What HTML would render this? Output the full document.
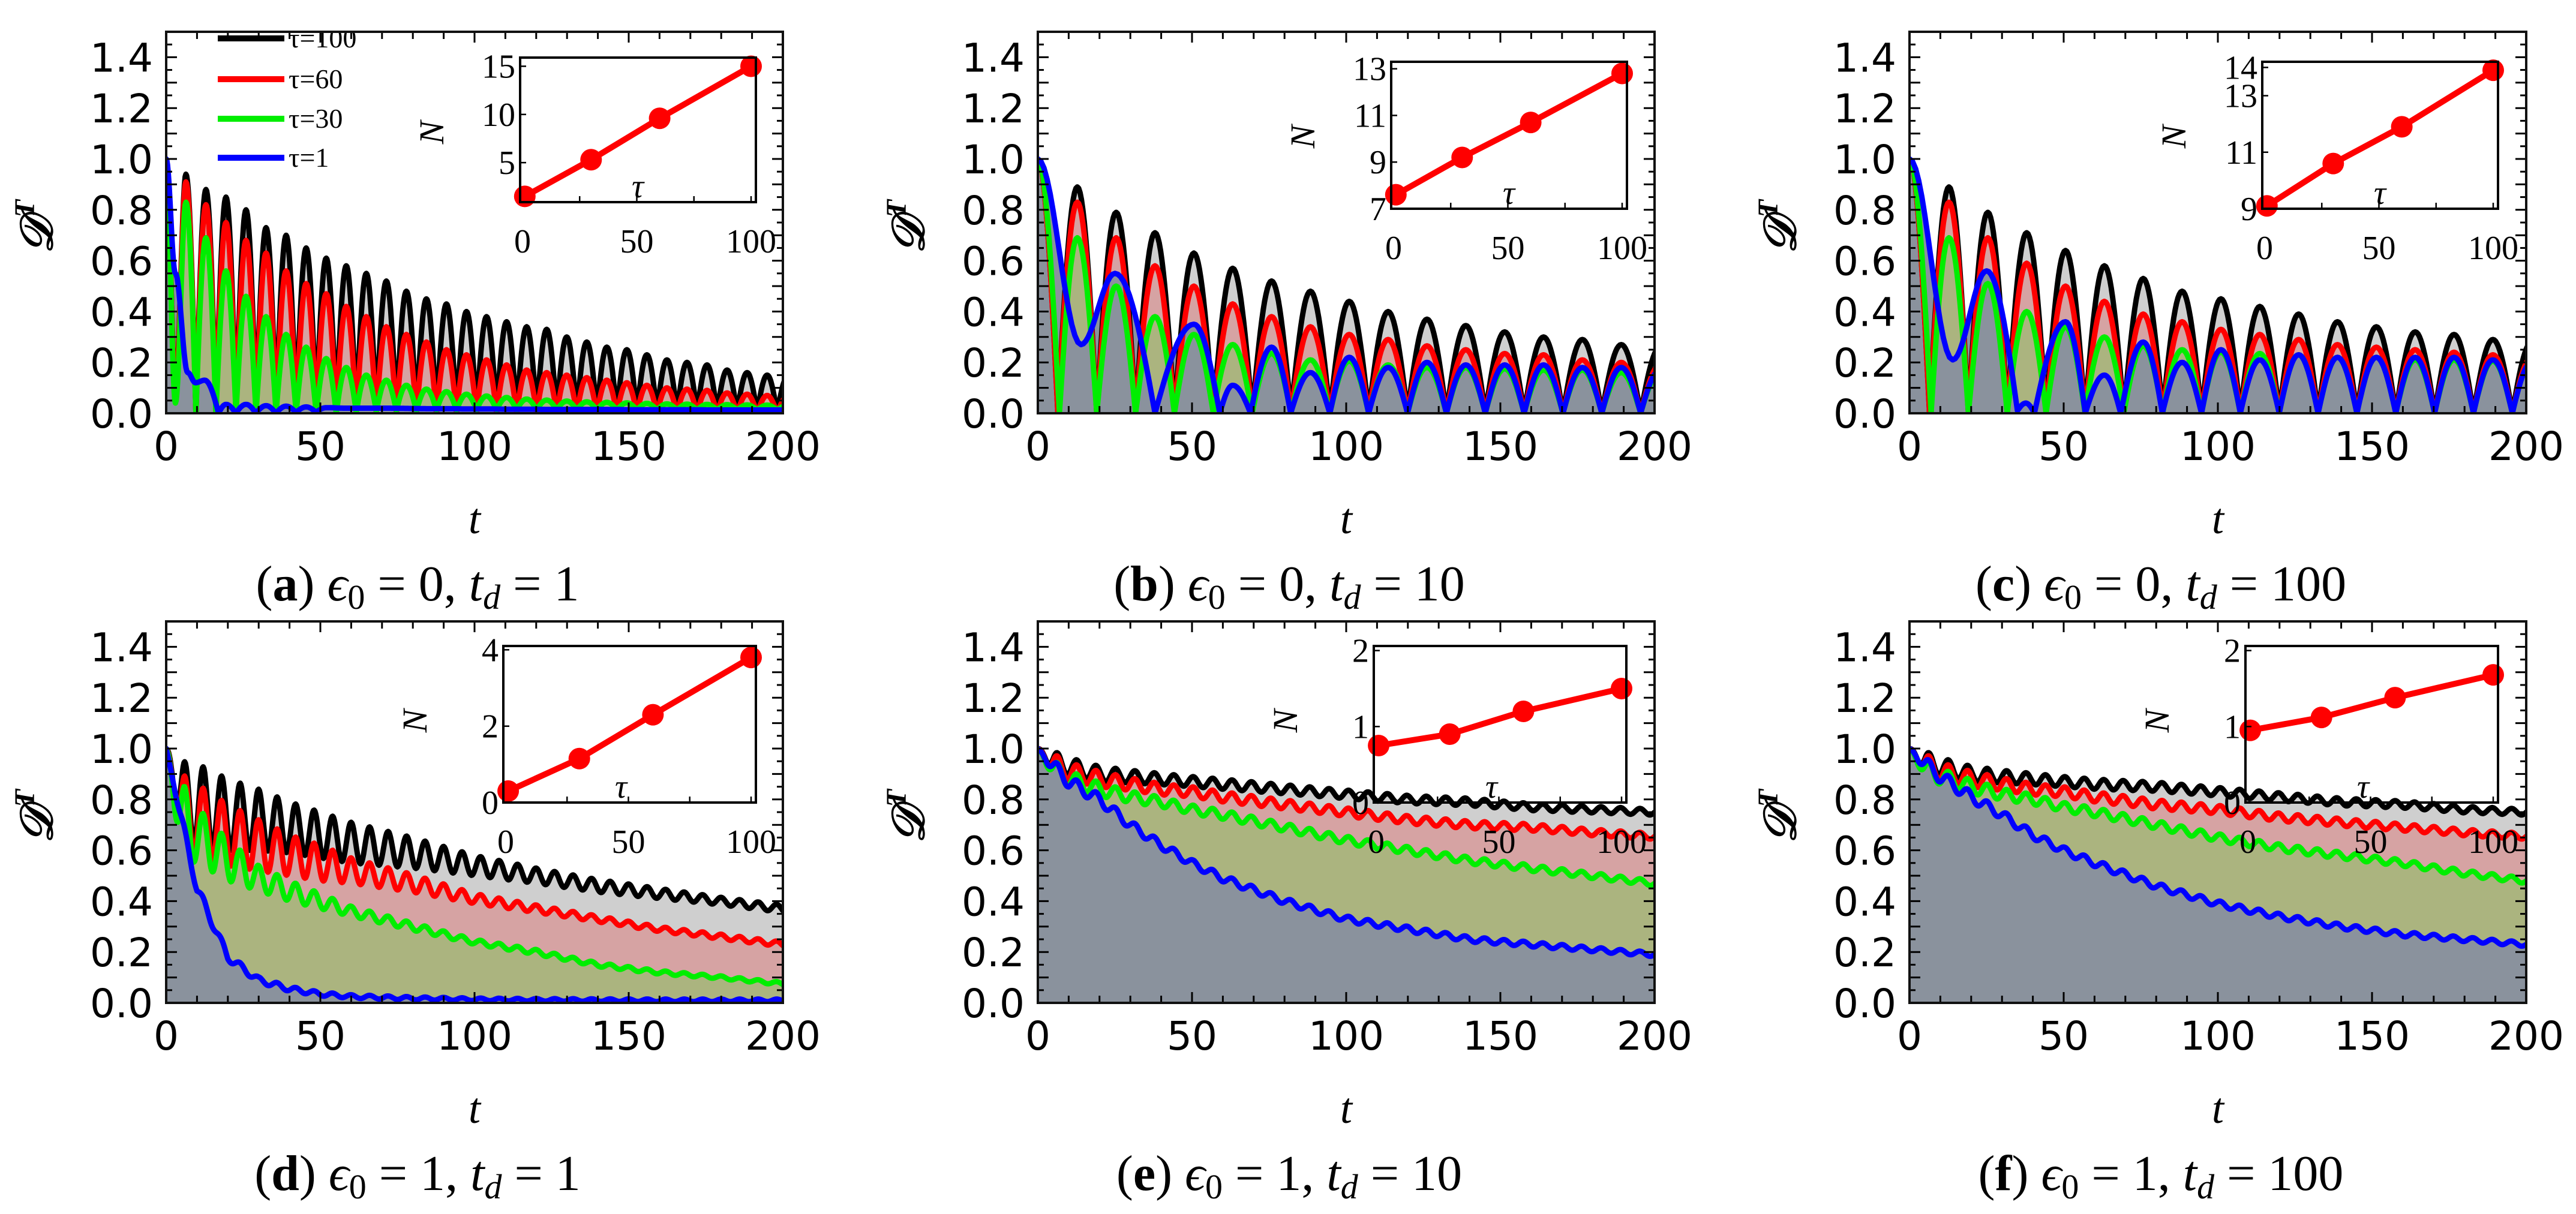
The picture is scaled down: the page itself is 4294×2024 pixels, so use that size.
<!DOCTYPE html>
<html><head><meta charset="utf-8">
<style>
html,body{margin:0;padding:0;background:#fff;}
svg{display:block;}
.tk{font-family:"DejaVu Sans","Liberation Sans",sans-serif;font-size:66px;fill:#000;}
.sf{font-family:"Liberation Serif","DejaVu Serif",serif;fill:#000;}
</style></head>
<body>
<svg id="fig" width="4294" height="2024" viewBox="0 0 4294 2024" xmlns="http://www.w3.org/2000/svg"></svg>
<script>
// ---------- DATA ----------
const panelIds = ['a','b','c','d','e','f'];
const captionEps = ['0','0','0','1','1','1'];
const captionTd = ['1','10','100','1','10','100'];
const yTicks = [0.0,0.2,0.4,0.6,0.8,1.0,1.2,1.4];
const xTicks = [0,50,100,150,200];
const legendLabels = ['τ=100','τ=60','τ=30','τ=1'];

const peakT_a = [6.4,12.9,19.4,25.9,32.4,38.9,45.4,51.9,58.4,64.9,71.4,77.9,84.4,90.9,97.4,103.9,110.4,116.9,123.4,129.9,136.4,142.9,149.4,155.9,162.4,168.9,175.4,181.9,188.4,194.9,201.4];
const a_black = [0.94,0.88,0.85,0.80,0.73,0.70,0.65,0.61,0.58,0.55,0.52,0.48,0.45,0.43,0.40,0.38,0.36,0.34,0.33,0.30,0.28,0.26,0.25,0.23,0.21,0.20,0.19,0.17,0.16,0.15,0.14];
const a_red = [0.91,0.82,0.75,0.68,0.63,0.56,0.51,0.47,0.42,0.38,0.34,0.31,0.28,0.25,0.23,0.21,0.19,0.17,0.16,0.15,0.14,0.13,0.12,0.11,0.10,0.095,0.09,0.08,0.075,0.07,0.065];
const a_green = [0.83,0.69,0.56,0.46,0.38,0.31,0.26,0.215,0.18,0.15,0.13,0.11,0.095,0.085,0.075,0.068,0.062,0.056,0.052,0.048,0.045,0.043,0.041,0.039,0.037,0.036,0.035,0.034,0.033,0.032,0.031];
const a_green_tr = [0,0,0,0,0,0,0,0,0.005,0.008,0.01,0.01,0.012,0.012,0.013,0.013,0.013,0.013,0.013,0.013,0.013,0.013,0.013,0.013,0.013,0.013,0.013,0.013,0.013,0.013];
const a_blueT = [0,3,7,9.5,12.5,17,19.4,22.6,25.9,29.1,32.4,35.6,38.9,42.1,45.4,48.6,51.9,58.4,64.9,71.4,77.9,84.4,90.9,97.4,103.9,110.4,116.9,123.4,129.9,136.4,142.9,149.4,155.9,162.4,168.9,175.4,181.9,188.4,194.9,201.4];
const a_blueV = [1.0,0.55,0.16,0.12,0.13,0.0,0.035,0.0,0.035,0.0,0.03,0.0,0.028,0.003,0.025,0.004,0.022,0.02,0.02,0.02,0.019,0.018,0.018,0.017,0.017,0.016,0.016,0.015,0.015,0.015,0.015,0.014,0.014,0.014,0.014,0.013,0.013,0.013,0.013,0.013];

const peakT_bc = [12.8,25.4,38.0,50.6,63.2,75.8,88.4,101.0,113.6,126.2,138.8,151.4,164.0,176.6,189.2,201.8];
const b_black = [0.89,0.79,0.71,0.63,0.57,0.52,0.48,0.44,0.40,0.37,0.345,0.32,0.30,0.29,0.27,0.26];
const b_red = [0.83,0.69,0.58,0.50,0.43,0.38,0.34,0.31,0.29,0.265,0.25,0.235,0.23,0.21,0.20,0.19];
const b_green = [0.69,0.50,0.38,0.31,0.27,0.235,0.21,0.205,0.19,0.18,0.18,0.175,0.17,0.17,0.16,0.16];
const b_blueT = [0,14,25,38,50.6,59,63.2,69,75.8,82,88.4,94.7,101,107.3,113.6,119.9,126.2,132.5,138.8,145.1,151.4,157.7,164,170.3,176.6,182.9,189.2,195.5,201.8];
const b_blueV = [1.0,0.27,0.55,0.0,0.35,0.0,0.11,0.0,0.26,0.0,0.16,0.0,0.22,0.0,0.18,0.0,0.20,0.0,0.19,0.0,0.19,0.0,0.19,0.0,0.18,0.0,0.18,0.0,0.17];
const c_black = [0.89,0.79,0.71,0.64,0.58,0.53,0.48,0.45,0.42,0.39,0.36,0.34,0.32,0.31,0.29,0.28];
const c_red = [0.83,0.69,0.59,0.50,0.44,0.39,0.36,0.33,0.31,0.29,0.27,0.26,0.25,0.24,0.23,0.22];
const c_green = [0.69,0.51,0.40,0.34,0.30,0.265,0.25,0.24,0.235,0.23,0.22,0.22,0.21,0.21,0.205,0.20];
const c_blueT = [0,14,25,35,37.7,40.5,50.6,57,63.2,68.5,75.8,82,88.4,94.7,101,107.3,113.6,119.9,126.2,132.5,138.8,145.1,151.4,157.7,164,170.3,176.6,182.9,189.2,195.5,201.8];
const c_blueV = [1.0,0.21,0.56,0.01,0.04,0.0,0.36,0.0,0.15,0.0,0.28,0.0,0.20,0.0,0.25,0.0,0.21,0.0,0.23,0.0,0.22,0.0,0.22,0.0,0.22,0.0,0.22,0.0,0.21,0.0,0.20];

const gridT = [0,5,10,20,30,40,50,60,80,100,120,140,160,180,200];
const d_black = [1.0,0.80,0.78,0.74,0.72,0.69,0.66,0.63,0.59,0.54,0.50,0.46,0.43,0.40,0.37];
const d_blackAmp = [0,0.15,0.16,0.14,0.12,0.10,0.09,0.08,0.06,0.04,0.03,0.025,0.02,0.015,0.015];
const d_red = [1.0,0.75,0.72,0.66,0.62,0.58,0.55,0.52,0.47,0.41,0.37,0.33,0.29,0.26,0.23];
const d_redAmp = [0,0.15,0.14,0.12,0.10,0.08,0.07,0.05,0.035,0.02,0.015,0.012,0.01,0.01,0.01];
const d_green = [1.0,0.72,0.66,0.56,0.49,0.44,0.40,0.36,0.30,0.24,0.20,0.15,0.12,0.10,0.075];
const d_greenAmp = [0,0.15,0.11,0.08,0.05,0.04,0.03,0.02,0.015,0.01,0.01,0.008,0.007,0.006,0.006];
const d_blue = [1.0,0.72,0.45,0.18,0.09,0.055,0.035,0.025,0.018,0.014,0.012,0.011,0.01,0.01,0.01];
const d_blueAmp = [0,0.02,0.02,0.015,0.012,0.01,0.008,0.007,0.006,0.005,0.005,0.005,0.005,0.005,0.005];
const e_black = [1.0,0.95,0.93,0.90,0.89,0.88,0.87,0.86,0.84,0.82,0.80,0.79,0.77,0.76,0.75];
const e_red = [1.0,0.94,0.91,0.88,0.86,0.84,0.83,0.81,0.78,0.75,0.72,0.70,0.69,0.67,0.655];
const e_green = [1.0,0.92,0.88,0.84,0.81,0.79,0.76,0.74,0.69,0.64,0.60,0.56,0.53,0.50,0.47];
const e_blue = [1.0,0.93,0.87,0.80,0.70,0.62,0.55,0.49,0.40,0.33,0.29,0.25,0.23,0.21,0.19];
const f_black = [1.0,0.95,0.93,0.90,0.89,0.88,0.87,0.86,0.85,0.83,0.81,0.79,0.78,0.76,0.75];
const f_red = [1.0,0.94,0.91,0.88,0.86,0.84,0.83,0.81,0.78,0.76,0.73,0.71,0.69,0.67,0.655];
const f_green = [1.0,0.92,0.89,0.85,0.82,0.80,0.77,0.75,0.70,0.65,0.61,0.58,0.55,0.51,0.48];
const f_blue = [1.0,0.94,0.89,0.81,0.74,0.66,0.60,0.55,0.46,0.39,0.34,0.30,0.27,0.25,0.23];
const ef_amp = [0,0.04,0.035,0.03,0.025,0.022,0.02,0.02,0.018,0.017,0.016,0.015,0.014,0.013,0.012];

const insetTau = [1,30,60,100];
const insetN_a = [1.5,5.3,9.6,15.0];
const insetN_b = [7.6,9.2,10.7,12.8];
const insetN_c = [9.1,10.6,11.9,13.9];
const insetN_d = [0.3,1.15,2.3,3.8];
const insetN_e = [0.75,0.9,1.2,1.5];
const insetN_f = [0.95,1.12,1.38,1.68];
const insetYRange = [[0.9,15.9],[7,13.3],[9,14.2],[0,4.1],[0,2.06],[0,2.06]];
const insetYTicks = [[5,10,15],[7,9,11,13],[9,11,13,14],[0,2,4],[0,1,2],[0,1,2]];
const insetXTicks = [0,50,100];

// ---------- LAYOUT ----------
const NS='http://www.w3.org/2000/svg';
const svg=document.getElementById('fig');
const colL=[277,1730,3183], rowT=[53,1036], PW=1028, PH=636;
const insetBox=[[590,96,393,241],[589,103,393,245],[588,103,393,245],[562,1077,421,261],[560,1077,421,261],[560,1077,421,261]];
const fillCol=['#cfcfcf','#d6a3a3','#abb47f','#8a929d'];
const lineCol=['#000000','#ff0000','#00ee00','#0000ff'];
const seriesNames=['tau-100','tau-60','tau-30','tau-1'];

function el(tag,attrs,parent){const e=document.createElementNS(NS,tag);for(const k in attrs)e.setAttribute(k,attrs[k]);(parent||svg).appendChild(e);return e;}

function interp(T,V,t){
  if(t<=T[0])return V[0];
  for(let i=1;i<T.length;i++){if(t<=T[i]){const s=(t-T[i-1])/(T[i]-T[i-1]);return V[i-1]+(V[i]-V[i-1])*s;}}
  return V[V.length-1];
}
function vertexCurve(T,V){
  const pts=[];
  for(let i=0;i<T.length-1;i++){
    const a=V[i],b=V[i+1];const n=14;
    for(let k=0;k<(i==T.length-2?n+1:n);k++){
      const s=k/n;let v;
      const lo=Math.min(a,b);
      if(lo<0.02){
        if(a<b) v=a+(b-a)*Math.sin(Math.PI/2*s); else v=b+(a-b)*Math.cos(Math.PI/2*s);
      } else v=a+(b-a)*(1-Math.cos(Math.PI*s))/2;
      pts.push([T[i]+(T[i+1]-T[i])*s,v]);
    }
  }
  return pts;
}
function oscVertices(head,peakT,peaks,troughs){
  const T=head.map(p=>p[0]),V=head.map(p=>p[1]);
  for(let i=0;i<peakT.length;i++){
    T.push(peakT[i]);V.push(peaks[i]);
    if(i<peakT.length-1){T.push((peakT[i]+peakT[i+1])/2);V.push(troughs?troughs[i]:0);}
  }
  return [T,V];
}
function wiggleCurve(mean,amp,P){
  const pts=[];
  for(let t=0;t<=200.001;t+=0.25){pts.push([t,interp(gridT,mean,t)+interp(gridT,amp,t)*Math.cos(2*Math.PI*t/P)]);}
  return pts;
}

function seriesFor(p){
  if(p===0){
    const bk=oscVertices([[0,1.0],[3,0.1]],peakT_a,a_black,null);
    const rd=oscVertices([[0,1.0],[3,0.09]],peakT_a,a_red,null);
    const gr=oscVertices([[0,1.0],[3,0.04]],peakT_a,a_green,a_green_tr);
    return [vertexCurve(...bk),vertexCurve(...rd),vertexCurve(...gr),vertexCurve(a_blueT,a_blueV)];
  }
  if(p===1||p===2){
    const B=p===1?b_black:c_black,R=p===1?b_red:c_red,G=p===1?b_green:c_green;
    const bT=p===1?b_blueT:c_blueT,bV=p===1?b_blueV:c_blueV;
    return [vertexCurve(...oscVertices([[0,1.0],[6.5,0]],peakT_bc,B,null)),
            vertexCurve(...oscVertices([[0,1.0],[6.5,0]],peakT_bc,R,null)),
            vertexCurve(...oscVertices([[0,1.0],[7,0]],peakT_bc,G,null)),
            vertexCurve(bT,bV)];
  }
  if(p===3){
    return [wiggleCurve(d_black,d_blackAmp,6.0),wiggleCurve(d_red,d_redAmp,6.0),wiggleCurve(d_green,d_greenAmp,6.0),wiggleCurve(d_blue,d_blueAmp,6.0)];
  }
  const S=p===4?[e_black,e_red,e_green,e_blue]:[f_black,f_red,f_green,f_blue];
  return [wiggleCurve(S[0],ef_amp,6.3),wiggleCurve(S[1],ef_amp,6.3),wiggleCurve(S[2],ef_amp.map(a=>a*0.9),6.3),wiggleCurve(S[3],ef_amp.map(a=>a*0.7),6.3)];
}

const insetNs=[insetN_a,insetN_b,insetN_c,insetN_d,insetN_e,insetN_f];

for(let p=0;p<6;p++){
  const L=colL[p%3],T=rowT[Math.floor(p/3)],B=T+PH,R=L+PW;
  const sx=t=>L+t/200*PW, sy=v=>B-v/1.5*PH;
  const g=el('g',{});
  
  
  const cp=el('clipPath',{id:'clip'+p},g);
  el('rect',{x:L,y:T,width:PW,height:PH},cp);
  const plot=el('g',{'clip-path':'url(#clip'+p+')'},g);
  
  
  const curves=seriesFor(p);
  for(let s=0;s<4;s++){
    const c=curves[s];
    let d='M'+sx(c[0][0]).toFixed(1)+','+sy(Math.max(0,c[0][1])).toFixed(1);
    for(let i=1;i<c.length;i++)d+='L'+sx(c[i][0]).toFixed(1)+','+sy(Math.max(0,c[i][1])).toFixed(1);
    const fd=d+'L'+sx(c[c.length-1][0]).toFixed(1)+','+B+'L'+sx(0)+','+B+'Z';
    const f=el('path',{d:fd,fill:fillCol[s],stroke:'none'},plot);
    
    
    c._d=d;
  }
  for(let s=0;s<4;s++){
    const ln=el('path',{d:curves[s]._d,fill:'none',stroke:lineCol[s],'stroke-width':9,'stroke-linejoin':'round','stroke-linecap':'round'},plot);
    
    
  }
  if(p===0){
    const lg=el('g',{'clip-path':'url(#clip0)'},g);
    
    
    const ly=[64,132,198,263];
    for(let s=0;s<4;s++){
      const li=el('line',{x1:363,x2:474,y1:ly[s],y2:ly[s],stroke:lineCol[s],'stroke-width':10},lg);
      
      
      const tx=el('text',{x:481,y:ly[s]+15,class:'sf','font-size':46},lg);
      tx.textContent=legendLabels[s];
      
      
    }
  }
  const tg=el('g',{stroke:'#000','stroke-width':3},g);
  
  
  for(let k=0;k<=30;k++){const v=k*0.05,y=sy(v),len=(k%2==0)?18:10;
    el('line',{x1:L,x2:L+len,y1:y,y2:y},tg);el('line',{x1:R,x2:R-len,y1:y,y2:y},tg);}
  for(let k=0;k<=20;k++){const x=sx(k*10),len=(k%5==0)?18:12;
    el('line',{x1:x,x2:x,y1:B,y2:B-len},tg);el('line',{x1:x,x2:x,y1:T,y2:T+len},tg);}
  const fr=el('rect',{x:L,y:T,width:PW,height:PH,fill:'none',stroke:'#111','stroke-width':4},g);
  
  
  for(const v of yTicks){
    const t=el('text',{x:L-22,y:sy(v)+24,'text-anchor':'end',class:'tk'},g);
    t.textContent=v.toFixed(1);
    
    
  }
  for(const v of xTicks){
    const t=el('text',{x:sx(v),y:B+78,'text-anchor':'middle',class:'tk'},g);
    t.textContent=String(v);
    
    
  }
  const xl=el('text',{x:L+PW/2,y:B+200,'text-anchor':'middle',class:'sf','font-size':72,'font-style':'italic'},g);
  xl.textContent='t';
  
  
  const yl=el('text',{x:0,y:0,class:'sf','font-size':76,'font-style':'italic','font-weight':'bold','text-anchor':'middle',transform:'translate('+(L-190)+','+(T+325)+') rotate(-90)'},g);
  yl.innerHTML='𝒟<tspan dy="-30" font-size="48">T</tspan>';
  
  
  const cap=el('text',{x:L+PW/2-95,y:B+312,'text-anchor':'middle',class:'sf','font-size':84},g);
  cap.innerHTML='(<tspan font-weight="bold">'+panelIds[p]+'</tspan>) <tspan font-style="italic">ϵ</tspan><tspan font-size="58" dy="14">0</tspan><tspan dy="-14"> = '+captionEps[p]+', </tspan><tspan font-style="italic">t</tspan><tspan font-size="58" dy="14" font-style="italic">d</tspan><tspan dy="-14"> = '+captionTd[p]+'</tspan>';
  
  

  const ib=insetBox[p], IL=L+ib[0], IT=ib[1], IW=ib[2], IH=ib[3], IB=IT+IH;
  const yr=insetYRange[p];
  const ix=t=>IL+4+(t-0)/100*(IW-12), iy=v=>IB-(v-yr[0])/(yr[1]-yr[0])*IH;
  const ig=el('g',{},g);
  
  
  const N=insetNs[p];
  let d='';
  for(let i=0;i<insetTau.length;i++)d+=(i?'L':'M')+ix(insetTau[i]).toFixed(1)+','+iy(N[i]).toFixed(1);
  const il=el('path',{d:d,fill:'none',stroke:'#ff0000','stroke-width':10},ig);
  
  
  for(let i=0;i<insetTau.length;i++){
    const m=el('circle',{cx:ix(insetTau[i]),cy:iy(N[i]),r:18,fill:'#ff0000'},ig);
    
    
  }
  const itg=el('g',{stroke:'#000','stroke-width':2.5},ig);
  for(const tv of [25,50,75,100])el('line',{x1:ix(tv),x2:ix(tv),y1:IB,y2:IB-10},itg);
  for(const v of insetYTicks[p])el('line',{x1:IL,x2:IL+10,y1:iy(v),y2:iy(v)},itg);
  const irect=el('rect',{x:IL,y:IT,width:IW,height:IH,fill:'none',stroke:'#000','stroke-width':4},ig);
  
  
  for(const v of insetYTicks[p]){
    const t=el('text',{x:IL-8,y:iy(v)+19,'text-anchor':'end',class:'sf','font-size':56},ig);
    t.textContent=String(v);
    
    
  }
  for(const v of insetXTicks){
    const t=el('text',{x:ix(v),y:IB+84,'text-anchor':'middle',class:'sf','font-size':56},ig);
    t.textContent=String(v);
    
    
  }
  const tl=el('text',{x:IL+196,y:IB-8,'text-anchor':'middle',class:'sf','font-size':56,'font-style':'italic'},ig);
  tl.textContent='τ';
  
  
  const nl=el('text',{x:0,y:0,'text-anchor':'middle',class:'sf','font-size':58,'font-style':'italic',transform:'translate('+(IL-128)+','+(IT+125)+') rotate(-90)'},ig);
  nl.textContent='N';
  
  
}
</script>
</body></html>
